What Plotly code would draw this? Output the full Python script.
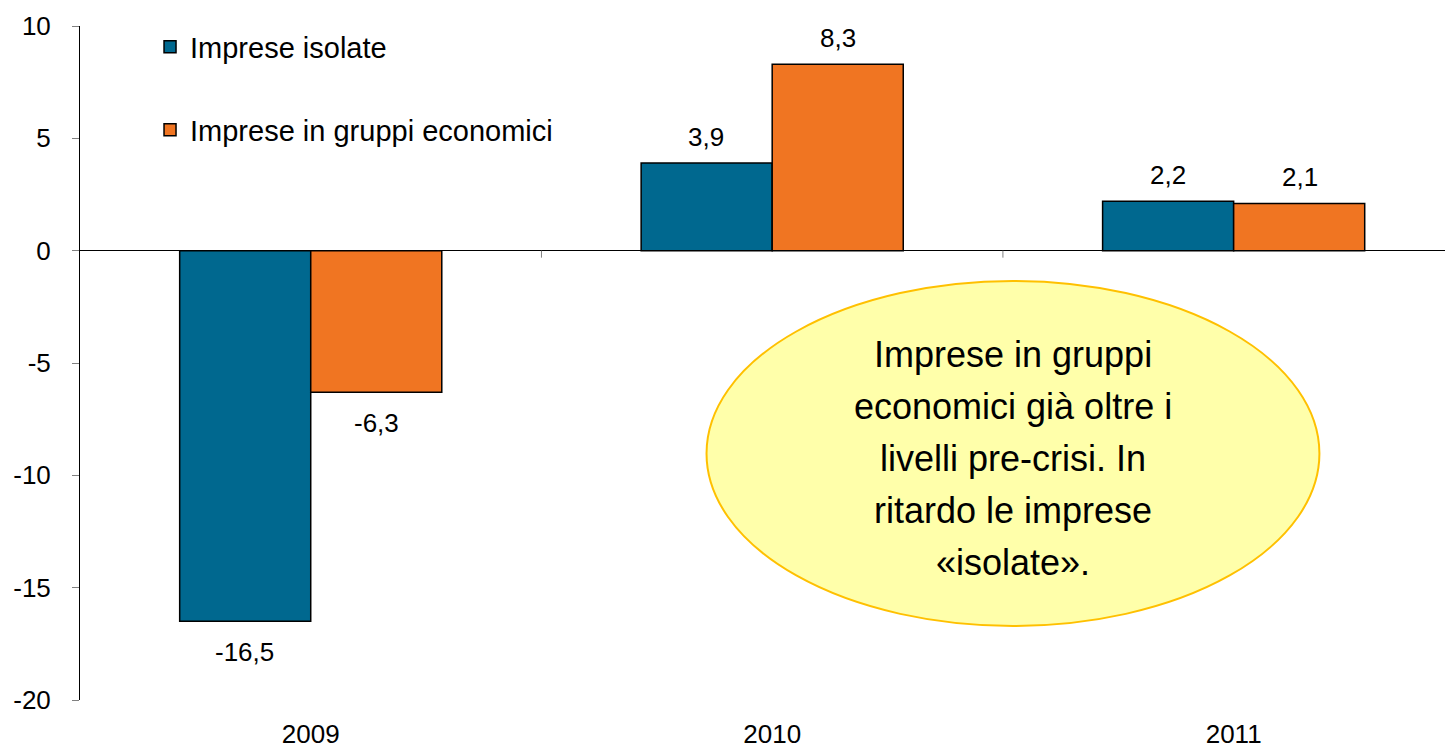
import plotly.graph_objects as go

years = ["2009", "2010", "2011"]
series_names = ["Imprese isolate", "Imprese in gruppi economici"]
isolate = [-16.5, 3.9, 2.2]
gruppi = [-6.3, 8.3, 2.1]
y_tickvals = [-20, -15, -10, -5, 0, 5, 10]
y_ticktext = ["-20", "-15", "-10", "-5", "0", "5", "10"]
callout_lines = ["Imprese in gruppi", "economici già oltre i", "livelli pre-crisi. In",
                 "ritardo le imprese", "«isolate»."]

colors = ["#00688F", "#F07522"]
FONT = "Liberation Sans, Arial, sans-serif"

fig = go.Figure()
fig.add_trace(go.Bar(x=years, y=isolate, name=series_names[0],
                     marker=dict(color=colors[0], line=dict(color="black", width=1.5)),
                     legend="legend", showlegend=True))
fig.add_trace(go.Bar(x=years, y=gruppi, name=series_names[1],
                     marker=dict(color=colors[1], line=dict(color="black", width=1.5)),
                     legend="legend2", showlegend=True))

annotations = []
for vals, shift in ((isolate, -66), (gruppi, 66)):
    for i, v in enumerate(vals):
        annotations.append(dict(
            x=i, y=v, xref="x", yref="y", xshift=shift,
            yshift=26 if v >= 0 else -31,
            text=f"{v:.1f}".replace(".", ","), showarrow=False,
            font=dict(size=26, color="black", family=FONT),
            xanchor="center", yanchor="middle"))

n = len(callout_lines)
for i, line in enumerate(callout_lines):
    annotations.append(dict(
        x=0.6835, y=0.3576, xref="paper", yref="paper", text=line,
        yshift=((n - 1) / 2 - i) * 52,
        showarrow=False, align="center", xanchor="center", yanchor="middle",
        font=dict(size=36, color="black", family=FONT)))

# small separator ticks below the zero line between categories
sep_ticks = [dict(type="line", xref="x", yref="y", ysizemode="pixel", yanchor=0,
                  x0=p, x1=p, y0=0, y1=-7, line=dict(color="#808080", width=1))
             for p in (0.5, 1.5)]

fig.update_layout(
    width=1445, height=748,
    margin=dict(l=80, r=0, t=26, b=48),
    paper_bgcolor="white", plot_bgcolor="white",
    font=dict(family=FONT, size=26, color="black"),
    showlegend=True,
    barmode="group", bargap=0.432, bargroupgap=0,
    xaxis=dict(type="category", range=[-0.5, 2.458], showgrid=False, showline=False,
               zeroline=False, ticks="", ticklabelstandoff=16, automargin=False,
               tickfont=dict(size=26)),
    yaxis=dict(range=[-20, 10], tickvals=y_tickvals, ticktext=y_ticktext,
               showgrid=False, zeroline=True, zerolinecolor="black", zerolinewidth=1,
               showline=True, linecolor="black", automargin=False,
               linewidth=1, ticks="outside", ticklen=7, tickcolor="#808080",
               ticklabelstandoff=16, tickfont=dict(size=26)),
    legend=dict(x=0.0513, y=0.969, xanchor="left", yanchor="middle",
                font=dict(size=29), bgcolor="rgba(0,0,0,0)"),
    legend2=dict(x=0.0513, y=0.846, xanchor="left", yanchor="middle",
                 font=dict(size=29), bgcolor="rgba(0,0,0,0)"),
    shapes=sep_ticks + [dict(type="circle", xref="paper", yref="paper",
                 x0=0.459, x1=0.908, y0=0.1098, y1=0.6217,
                 fillcolor="#FFFFAA", line=dict(color="#FFC000", width=2),
                 layer="above")],
    annotations=annotations,
)

fig.write_html("out.html", config={"displayModeBar": False},
               post_script="document.body.style.margin='0';document.body.style.overflow='hidden';")
